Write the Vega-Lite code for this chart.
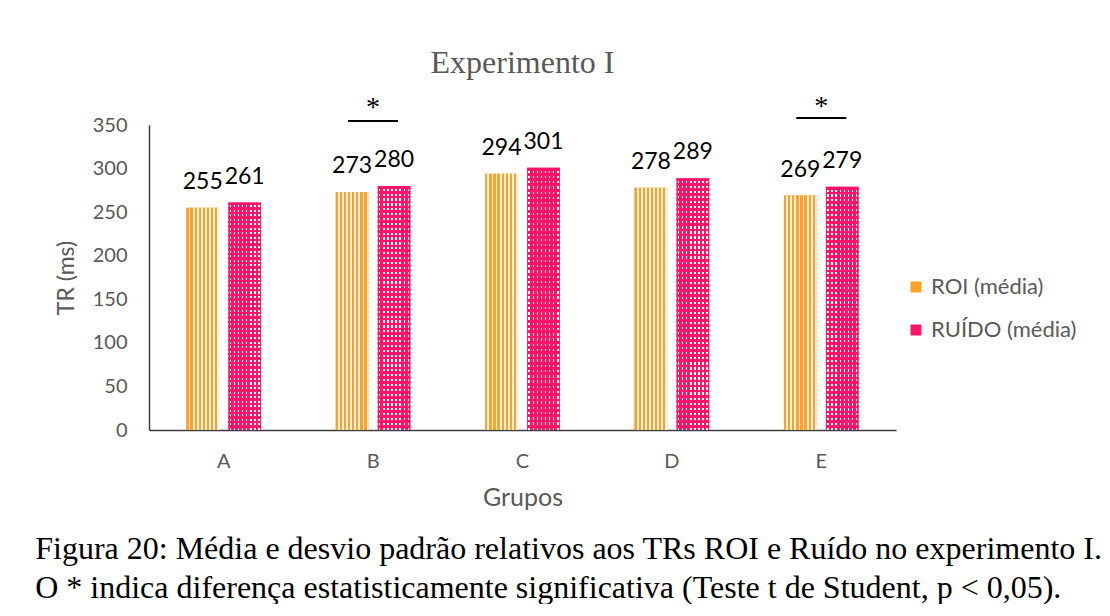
{
  "$schema": "https://vega.github.io/schema/vega-lite/v6.json",
  "padding": {"left": 35, "top": 46, "right": 0, "bottom": 0},
  "background": "white",
  "config": {"view": {"stroke": null}, "font": "Lato"},
  "datasets": {
    "main": [
      {"group": "A", "series": "ROI (média)", "value": 255},
      {"group": "A", "series": "RUÍDO (média)", "value": 261},
      {"group": "B", "series": "ROI (média)", "value": 273},
      {"group": "B", "series": "RUÍDO (média)", "value": 280},
      {"group": "C", "series": "ROI (média)", "value": 294},
      {"group": "C", "series": "RUÍDO (média)", "value": 301},
      {"group": "D", "series": "ROI (média)", "value": 278},
      {"group": "D", "series": "RUÍDO (média)", "value": 289},
      {"group": "E", "series": "ROI (média)", "value": 269},
      {"group": "E", "series": "RUÍDO (média)", "value": 279}
    ],
    "sig": [
      {"group": "B", "line": 354.6, "star": 369, "mark": "*"},
      {"group": "E", "line": 358, "star": 371, "mark": "*"}
    ]
  },
  "title": {
    "text": ["Figura 20: Média e desvio padrão relativos aos TRs ROI e Ruído no experimento I.", "O * indica diferença estatisticamente significativa (Teste t de Student, p < 0,05)."],
    "orient": "bottom", "anchor": "start", "font": "Liberation Serif", "fontSize": 32,
    "fontWeight": "normal", "color": "black", "lineHeight": 39, "dx": -20, "offset": 24
  },
  "vconcat": [
    {
      "width": 747,
      "height": 305,
      "title": {"text": "Experimento I", "font": "Liberation Serif", "fontSize": 32, "fontWeight": "normal", "color": "#595959", "offset": 13, "anchor": "middle"},
      "layer": [
        {
          "data": {"name": "main"},
          "mark": {"type": "bar"},
          "encoding": {
            "x": {"field": "group", "type": "nominal", "scale": {"domain": ["A", "B", "C", "D", "E"], "paddingInner": 0.5, "paddingOuter": 0.25},
                  "axis": {"title": "Grupos", "labelAngle": 0, "ticks": false, "labelPadding": 21, "labelFontSize": 20, "labelColor": "#595959", "titleFontSize": 25, "titleColor": "#595959", "titleFontWeight": "normal", "titlePadding": 14, "domainColor": "#3f3f3f", "domainWidth": 1.5}},
            "xOffset": {"field": "series", "type": "nominal", "sort": ["ROI (média)", "RUÍDO (média)"], "scale": {"paddingInner": 0.22}},
            "y": {"field": "value", "type": "quantitative", "scale": {"domain": [0, 350], "nice": false},
                  "axis": {"title": "TR (ms)", "values": [0, 50, 100, 150, 200, 250, 300, 350], "grid": false, "ticks": false, "labelPadding": 22, "labelFontSize": 20, "labelColor": "#595959", "titleFontSize": 23, "titleColor": "#595959", "titleFontWeight": "normal", "titlePadding": 14, "domainColor": "#3f3f3f", "domainWidth": 1.5}},
            "color": {"field": "series", "type": "nominal", "scale": {"domain": ["ROI (média)", "RUÍDO (média)"], "range": ["#ffa126", "#ff1468"]},
                      "legend": {"title": null, "orient": "none", "legendX": 756, "legendY": 151, "symbolType": "square", "symbolSize": 120, "labelFontSize": 22, "labelColor": "#595959", "rowPadding": 21, "labelOffset": 4}}
          }
        },
        {
          "data": {"name": "main"},
          "transform": [{"filter": "datum.series === 'ROI (média)'"}],
          "mark": {"type": "bar", "fill": {"gradient": "linear", "x1": 0, "y1": 0, "x2": 1, "y2": 0, "stops": [
            {"offset": 0, "color": "#ffa126"}, {"offset": 0.07, "color": "#ffa126"}, {"offset": 0.07, "color": "#fff4e6"}, {"offset": 0.125, "color": "#fff4e6"},
            {"offset": 0.125, "color": "#ffa126"}, {"offset": 0.195, "color": "#ffa126"}, {"offset": 0.195, "color": "#fff4e6"}, {"offset": 0.25, "color": "#fff4e6"},
            {"offset": 0.25, "color": "#ffa126"}, {"offset": 0.32, "color": "#ffa126"}, {"offset": 0.32, "color": "#fff4e6"}, {"offset": 0.375, "color": "#fff4e6"},
            {"offset": 0.375, "color": "#ffa126"}, {"offset": 0.445, "color": "#ffa126"}, {"offset": 0.445, "color": "#fff4e6"}, {"offset": 0.5, "color": "#fff4e6"},
            {"offset": 0.5, "color": "#ffa126"}, {"offset": 0.57, "color": "#ffa126"}, {"offset": 0.57, "color": "#fff4e6"}, {"offset": 0.625, "color": "#fff4e6"},
            {"offset": 0.625, "color": "#ffa126"}, {"offset": 0.695, "color": "#ffa126"}, {"offset": 0.695, "color": "#fff4e6"}, {"offset": 0.75, "color": "#fff4e6"},
            {"offset": 0.75, "color": "#ffa126"}, {"offset": 0.82, "color": "#ffa126"}, {"offset": 0.82, "color": "#fff4e6"}, {"offset": 0.875, "color": "#fff4e6"},
            {"offset": 0.875, "color": "#ffa126"}, {"offset": 0.945, "color": "#ffa126"}, {"offset": 0.945, "color": "#fff4e6"}, {"offset": 1, "color": "#fff4e6"}
          ]}},
          "encoding": {
            "x": {"field": "group", "type": "nominal"},
            "xOffset": {"field": "series", "type": "nominal", "sort": ["ROI (média)", "RUÍDO (média)"]},
            "y": {"field": "value", "type": "quantitative"}
          }
        },
        {
          "data": {"name": "main"},
          "transform": [{"filter": "datum.series === 'RUÍDO (média)'"}],
          "mark": {"type": "bar", "fill": {"gradient": "linear", "x1": 0, "y1": 0, "x2": 1, "y2": 0, "stops": [
            {"offset": 0, "color": "rgba(255,255,255,0)"},
            {"offset": 0.04, "color": "rgba(255,255,255,0)"}, {"offset": 0.04, "color": "#ffffff"}, {"offset": 0.085, "color": "#ffffff"}, {"offset": 0.085, "color": "rgba(255,255,255,0)"},
            {"offset": 0.165, "color": "rgba(255,255,255,0)"}, {"offset": 0.165, "color": "#ffffff"}, {"offset": 0.21, "color": "#ffffff"}, {"offset": 0.21, "color": "rgba(255,255,255,0)"},
            {"offset": 0.29, "color": "rgba(255,255,255,0)"}, {"offset": 0.29, "color": "#ffffff"}, {"offset": 0.335, "color": "#ffffff"}, {"offset": 0.335, "color": "rgba(255,255,255,0)"},
            {"offset": 0.415, "color": "rgba(255,255,255,0)"}, {"offset": 0.415, "color": "#ffffff"}, {"offset": 0.46, "color": "#ffffff"}, {"offset": 0.46, "color": "rgba(255,255,255,0)"},
            {"offset": 0.54, "color": "rgba(255,255,255,0)"}, {"offset": 0.54, "color": "#ffffff"}, {"offset": 0.585, "color": "#ffffff"}, {"offset": 0.585, "color": "rgba(255,255,255,0)"},
            {"offset": 0.665, "color": "rgba(255,255,255,0)"}, {"offset": 0.665, "color": "#ffffff"}, {"offset": 0.71, "color": "#ffffff"}, {"offset": 0.71, "color": "rgba(255,255,255,0)"},
            {"offset": 0.79, "color": "rgba(255,255,255,0)"}, {"offset": 0.79, "color": "#ffffff"}, {"offset": 0.835, "color": "#ffffff"}, {"offset": 0.835, "color": "rgba(255,255,255,0)"},
            {"offset": 0.915, "color": "rgba(255,255,255,0)"}, {"offset": 0.915, "color": "#ffffff"}, {"offset": 0.96, "color": "#ffffff"}, {"offset": 0.96, "color": "rgba(255,255,255,0)"},
            {"offset": 1, "color": "rgba(255,255,255,0)"}
          ]}},
          "encoding": {
            "x": {"field": "group", "type": "nominal"},
            "xOffset": {"field": "series", "type": "nominal", "sort": ["ROI (média)", "RUÍDO (média)"]},
            "y": {"field": "value", "type": "quantitative"}
          }
        },
        {
          "data": {"name": "main"},
          "transform": [{"filter": "datum.series === 'RUÍDO (média)'"}],
          "mark": {"type": "bar", "fill": {"gradient": "linear", "x1": 0, "y1": 0, "x2": 0, "y2": 1, "stops": [
            {"offset": 0, "color": "#ff1468"}, {"offset": 0.011, "color": "#ff1468"}, {"offset": 0.011, "color": "rgba(255,20,104,0)"}, {"offset": 0.02, "color": "rgba(255,20,104,0)"},
            {"offset": 0.02, "color": "#ff1468"}, {"offset": 0.031, "color": "#ff1468"}, {"offset": 0.031, "color": "rgba(255,20,104,0)"}, {"offset": 0.04, "color": "rgba(255,20,104,0)"},
            {"offset": 0.04, "color": "#ff1468"}, {"offset": 0.051, "color": "#ff1468"}, {"offset": 0.051, "color": "rgba(255,20,104,0)"}, {"offset": 0.06, "color": "rgba(255,20,104,0)"},
            {"offset": 0.06, "color": "#ff1468"}, {"offset": 0.071, "color": "#ff1468"}, {"offset": 0.071, "color": "rgba(255,20,104,0)"}, {"offset": 0.08, "color": "rgba(255,20,104,0)"},
            {"offset": 0.08, "color": "#ff1468"}, {"offset": 0.091, "color": "#ff1468"}, {"offset": 0.091, "color": "rgba(255,20,104,0)"}, {"offset": 0.1, "color": "rgba(255,20,104,0)"},
            {"offset": 0.1, "color": "#ff1468"}, {"offset": 0.111, "color": "#ff1468"}, {"offset": 0.111, "color": "rgba(255,20,104,0)"}, {"offset": 0.12, "color": "rgba(255,20,104,0)"},
            {"offset": 0.12, "color": "#ff1468"}, {"offset": 0.131, "color": "#ff1468"}, {"offset": 0.131, "color": "rgba(255,20,104,0)"}, {"offset": 0.14, "color": "rgba(255,20,104,0)"},
            {"offset": 0.14, "color": "#ff1468"}, {"offset": 0.151, "color": "#ff1468"}, {"offset": 0.151, "color": "rgba(255,20,104,0)"}, {"offset": 0.16, "color": "rgba(255,20,104,0)"},
            {"offset": 0.16, "color": "#ff1468"}, {"offset": 0.171, "color": "#ff1468"}, {"offset": 0.171, "color": "rgba(255,20,104,0)"}, {"offset": 0.18, "color": "rgba(255,20,104,0)"},
            {"offset": 0.18, "color": "#ff1468"}, {"offset": 0.191, "color": "#ff1468"}, {"offset": 0.191, "color": "rgba(255,20,104,0)"}, {"offset": 0.2, "color": "rgba(255,20,104,0)"},
            {"offset": 0.2, "color": "#ff1468"}, {"offset": 0.211, "color": "#ff1468"}, {"offset": 0.211, "color": "rgba(255,20,104,0)"}, {"offset": 0.22, "color": "rgba(255,20,104,0)"},
            {"offset": 0.22, "color": "#ff1468"}, {"offset": 0.231, "color": "#ff1468"}, {"offset": 0.231, "color": "rgba(255,20,104,0)"}, {"offset": 0.24, "color": "rgba(255,20,104,0)"},
            {"offset": 0.24, "color": "#ff1468"}, {"offset": 0.251, "color": "#ff1468"}, {"offset": 0.251, "color": "rgba(255,20,104,0)"}, {"offset": 0.26, "color": "rgba(255,20,104,0)"},
            {"offset": 0.26, "color": "#ff1468"}, {"offset": 0.271, "color": "#ff1468"}, {"offset": 0.271, "color": "rgba(255,20,104,0)"}, {"offset": 0.28, "color": "rgba(255,20,104,0)"},
            {"offset": 0.28, "color": "#ff1468"}, {"offset": 0.291, "color": "#ff1468"}, {"offset": 0.291, "color": "rgba(255,20,104,0)"}, {"offset": 0.3, "color": "rgba(255,20,104,0)"},
            {"offset": 0.3, "color": "#ff1468"}, {"offset": 0.311, "color": "#ff1468"}, {"offset": 0.311, "color": "rgba(255,20,104,0)"}, {"offset": 0.32, "color": "rgba(255,20,104,0)"},
            {"offset": 0.32, "color": "#ff1468"}, {"offset": 0.331, "color": "#ff1468"}, {"offset": 0.331, "color": "rgba(255,20,104,0)"}, {"offset": 0.34, "color": "rgba(255,20,104,0)"},
            {"offset": 0.34, "color": "#ff1468"}, {"offset": 0.351, "color": "#ff1468"}, {"offset": 0.351, "color": "rgba(255,20,104,0)"}, {"offset": 0.36, "color": "rgba(255,20,104,0)"},
            {"offset": 0.36, "color": "#ff1468"}, {"offset": 0.371, "color": "#ff1468"}, {"offset": 0.371, "color": "rgba(255,20,104,0)"}, {"offset": 0.38, "color": "rgba(255,20,104,0)"},
            {"offset": 0.38, "color": "#ff1468"}, {"offset": 0.391, "color": "#ff1468"}, {"offset": 0.391, "color": "rgba(255,20,104,0)"}, {"offset": 0.4, "color": "rgba(255,20,104,0)"},
            {"offset": 0.4, "color": "#ff1468"}, {"offset": 0.411, "color": "#ff1468"}, {"offset": 0.411, "color": "rgba(255,20,104,0)"}, {"offset": 0.42, "color": "rgba(255,20,104,0)"},
            {"offset": 0.42, "color": "#ff1468"}, {"offset": 0.431, "color": "#ff1468"}, {"offset": 0.431, "color": "rgba(255,20,104,0)"}, {"offset": 0.44, "color": "rgba(255,20,104,0)"},
            {"offset": 0.44, "color": "#ff1468"}, {"offset": 0.451, "color": "#ff1468"}, {"offset": 0.451, "color": "rgba(255,20,104,0)"}, {"offset": 0.46, "color": "rgba(255,20,104,0)"},
            {"offset": 0.46, "color": "#ff1468"}, {"offset": 0.471, "color": "#ff1468"}, {"offset": 0.471, "color": "rgba(255,20,104,0)"}, {"offset": 0.48, "color": "rgba(255,20,104,0)"},
            {"offset": 0.48, "color": "#ff1468"}, {"offset": 0.491, "color": "#ff1468"}, {"offset": 0.491, "color": "rgba(255,20,104,0)"}, {"offset": 0.5, "color": "rgba(255,20,104,0)"},
            {"offset": 0.5, "color": "#ff1468"}, {"offset": 0.511, "color": "#ff1468"}, {"offset": 0.511, "color": "rgba(255,20,104,0)"}, {"offset": 0.52, "color": "rgba(255,20,104,0)"},
            {"offset": 0.52, "color": "#ff1468"}, {"offset": 0.531, "color": "#ff1468"}, {"offset": 0.531, "color": "rgba(255,20,104,0)"}, {"offset": 0.54, "color": "rgba(255,20,104,0)"},
            {"offset": 0.54, "color": "#ff1468"}, {"offset": 0.551, "color": "#ff1468"}, {"offset": 0.551, "color": "rgba(255,20,104,0)"}, {"offset": 0.56, "color": "rgba(255,20,104,0)"},
            {"offset": 0.56, "color": "#ff1468"}, {"offset": 0.571, "color": "#ff1468"}, {"offset": 0.571, "color": "rgba(255,20,104,0)"}, {"offset": 0.58, "color": "rgba(255,20,104,0)"},
            {"offset": 0.58, "color": "#ff1468"}, {"offset": 0.591, "color": "#ff1468"}, {"offset": 0.591, "color": "rgba(255,20,104,0)"}, {"offset": 0.6, "color": "rgba(255,20,104,0)"},
            {"offset": 0.6, "color": "#ff1468"}, {"offset": 0.611, "color": "#ff1468"}, {"offset": 0.611, "color": "rgba(255,20,104,0)"}, {"offset": 0.62, "color": "rgba(255,20,104,0)"},
            {"offset": 0.62, "color": "#ff1468"}, {"offset": 0.631, "color": "#ff1468"}, {"offset": 0.631, "color": "rgba(255,20,104,0)"}, {"offset": 0.64, "color": "rgba(255,20,104,0)"},
            {"offset": 0.64, "color": "#ff1468"}, {"offset": 0.651, "color": "#ff1468"}, {"offset": 0.651, "color": "rgba(255,20,104,0)"}, {"offset": 0.66, "color": "rgba(255,20,104,0)"},
            {"offset": 0.66, "color": "#ff1468"}, {"offset": 0.671, "color": "#ff1468"}, {"offset": 0.671, "color": "rgba(255,20,104,0)"}, {"offset": 0.68, "color": "rgba(255,20,104,0)"},
            {"offset": 0.68, "color": "#ff1468"}, {"offset": 0.691, "color": "#ff1468"}, {"offset": 0.691, "color": "rgba(255,20,104,0)"}, {"offset": 0.7, "color": "rgba(255,20,104,0)"},
            {"offset": 0.7, "color": "#ff1468"}, {"offset": 0.711, "color": "#ff1468"}, {"offset": 0.711, "color": "rgba(255,20,104,0)"}, {"offset": 0.72, "color": "rgba(255,20,104,0)"},
            {"offset": 0.72, "color": "#ff1468"}, {"offset": 0.731, "color": "#ff1468"}, {"offset": 0.731, "color": "rgba(255,20,104,0)"}, {"offset": 0.74, "color": "rgba(255,20,104,0)"},
            {"offset": 0.74, "color": "#ff1468"}, {"offset": 0.751, "color": "#ff1468"}, {"offset": 0.751, "color": "rgba(255,20,104,0)"}, {"offset": 0.76, "color": "rgba(255,20,104,0)"},
            {"offset": 0.76, "color": "#ff1468"}, {"offset": 0.771, "color": "#ff1468"}, {"offset": 0.771, "color": "rgba(255,20,104,0)"}, {"offset": 0.78, "color": "rgba(255,20,104,0)"},
            {"offset": 0.78, "color": "#ff1468"}, {"offset": 0.791, "color": "#ff1468"}, {"offset": 0.791, "color": "rgba(255,20,104,0)"}, {"offset": 0.8, "color": "rgba(255,20,104,0)"},
            {"offset": 0.8, "color": "#ff1468"}, {"offset": 0.811, "color": "#ff1468"}, {"offset": 0.811, "color": "rgba(255,20,104,0)"}, {"offset": 0.82, "color": "rgba(255,20,104,0)"},
            {"offset": 0.82, "color": "#ff1468"}, {"offset": 0.831, "color": "#ff1468"}, {"offset": 0.831, "color": "rgba(255,20,104,0)"}, {"offset": 0.84, "color": "rgba(255,20,104,0)"},
            {"offset": 0.84, "color": "#ff1468"}, {"offset": 0.851, "color": "#ff1468"}, {"offset": 0.851, "color": "rgba(255,20,104,0)"}, {"offset": 0.86, "color": "rgba(255,20,104,0)"},
            {"offset": 0.86, "color": "#ff1468"}, {"offset": 0.871, "color": "#ff1468"}, {"offset": 0.871, "color": "rgba(255,20,104,0)"}, {"offset": 0.88, "color": "rgba(255,20,104,0)"},
            {"offset": 0.88, "color": "#ff1468"}, {"offset": 0.891, "color": "#ff1468"}, {"offset": 0.891, "color": "rgba(255,20,104,0)"}, {"offset": 0.9, "color": "rgba(255,20,104,0)"},
            {"offset": 0.9, "color": "#ff1468"}, {"offset": 0.911, "color": "#ff1468"}, {"offset": 0.911, "color": "rgba(255,20,104,0)"}, {"offset": 0.92, "color": "rgba(255,20,104,0)"},
            {"offset": 0.92, "color": "#ff1468"}, {"offset": 0.931, "color": "#ff1468"}, {"offset": 0.931, "color": "rgba(255,20,104,0)"}, {"offset": 0.94, "color": "rgba(255,20,104,0)"},
            {"offset": 0.94, "color": "#ff1468"}, {"offset": 0.951, "color": "#ff1468"}, {"offset": 0.951, "color": "rgba(255,20,104,0)"}, {"offset": 0.96, "color": "rgba(255,20,104,0)"},
            {"offset": 0.96, "color": "#ff1468"}, {"offset": 0.971, "color": "#ff1468"}, {"offset": 0.971, "color": "rgba(255,20,104,0)"}, {"offset": 0.98, "color": "rgba(255,20,104,0)"},
            {"offset": 0.98, "color": "#ff1468"}, {"offset": 0.991, "color": "#ff1468"}, {"offset": 0.991, "color": "rgba(255,20,104,0)"}, {"offset": 1, "color": "rgba(255,20,104,0)"}
          ]}},
          "encoding": {
            "x": {"field": "group", "type": "nominal"},
            "xOffset": {"field": "series", "type": "nominal", "sort": ["ROI (média)", "RUÍDO (média)"]},
            "y": {"field": "value", "type": "quantitative"}
          }
        },
        {
          "data": {"name": "main"},
          "mark": {"type": "text", "baseline": "alphabetic", "dy": -19, "fontSize": 23, "color": "black", "font": "Lato"},
          "encoding": {
            "x": {"field": "group", "type": "nominal"},
            "xOffset": {"field": "series", "type": "nominal", "sort": ["ROI (média)", "RUÍDO (média)"]},
            "y": {"field": "value", "type": "quantitative"},
            "text": {"field": "value", "type": "quantitative"}
          }
        },
        {
          "data": {"name": "sig"},
          "mark": {"type": "tick", "orient": "horizontal", "size": 50, "thickness": 2, "color": "black", "opacity": 1},
          "encoding": {
            "x": {"field": "group", "type": "nominal"},
            "y": {"field": "line", "type": "quantitative"}
          }
        },
        {
          "data": {"name": "sig"},
          "mark": {"type": "text", "baseline": "middle", "font": "Liberation Serif", "fontSize": 28, "color": "black"},
          "encoding": {
            "x": {"field": "group", "type": "nominal"},
            "y": {"field": "star", "type": "quantitative"},
            "text": {"field": "mark", "type": "nominal"}
          }
        }
      ]
    }
  ]
}
